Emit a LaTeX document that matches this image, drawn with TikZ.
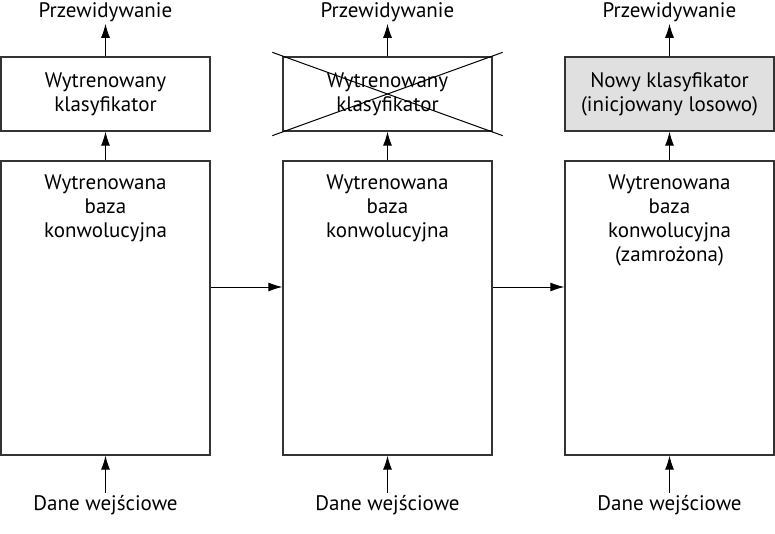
\documentclass[tikz,border=0pt]{standalone}
\usepackage{fontspec}
\setmainfont{PT Sans}
\usetikzlibrary{arrows.meta}
\begin{document}
\begin{tikzpicture}[x=1pt,y=-1pt,
  box/.style={draw=black!80, line width=1.3pt, minimum width=209pt, inner sep=0pt},
  small/.style={box, minimum height=74pt, align=center, font=\fontsize{21}{24}\selectfont},
  big/.style={box, minimum height=294pt},
  txt/.style={align=center, font=\fontsize{21}{24}\selectfont, inner sep=2pt},
  arr/.style={-{Latex[length=14pt,width=9pt]}, line width=1pt}]
\useasboundingbox (0,0) rectangle (775,534);
\foreach \i/\c in {1/105.5,2/387.5,3/669.5}{
  \node[txt] (p\i) at (\c,12) {Przewidywanie};
  \node[txt] (d\i) at (\c,505) {Dane wejściowe};
  \node[big] (b\i) at (\c,308) {};
}
\node[small] (k1) at (105.5,94) {Wytrenowany\\klasyfikator};
\node[small] (k2) at (387.5,94) {Wytrenowany\\klasyfikator};
\node[small, fill=black!12] (k3) at (669.5,94) {Nowy klasyfikator\\(inicjowany losowo)};
\node[txt, anchor=north] (t1) at ([yshift=-12pt]b1.north) {Wytrenowana\\baza\\konwolucyjna};
\node[txt, anchor=north] (t2) at ([yshift=-12pt]b2.north) {Wytrenowana\\baza\\konwolucyjna};
\node[txt, anchor=north] (t3) at ([yshift=-12pt]b3.north) {Wytrenowana\\baza\\konwolucyjna\\(zamrożona)};
\draw[line width=1pt] ([shift={(-10pt,4pt)}]k2.north west) -- ([shift={(10pt,-4pt)}]k2.south east);
\draw[line width=1pt] ([shift={(-10pt,-4pt)}]k2.south west) -- ([shift={(10pt,4pt)}]k2.north east);
\foreach \i in {1,2,3}{
  \draw[arr] (k\i) -- (p\i);
  \draw[arr] (b\i) -- (k\i);
  \draw[arr] (d\i) -- (b\i);
}
\draw[arr] ([yshift=21pt]b1.east) -- ([yshift=21pt]b2.west);
\draw[arr] ([yshift=21pt]b2.east) -- ([yshift=21pt]b3.west);
\end{tikzpicture}
\end{document}
